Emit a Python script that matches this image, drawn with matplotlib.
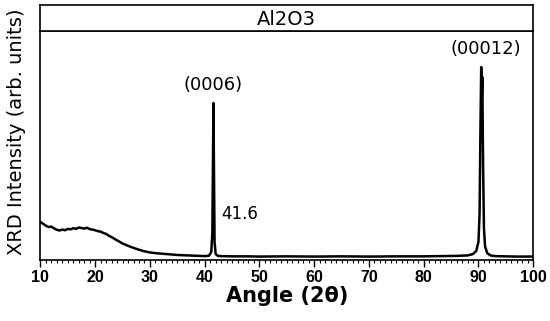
import numpy as np
import matplotlib.pyplot as plt
from matplotlib.ticker import MultipleLocator

plt.rcParams['font.family'] = ['DejaVu Sans']

# XRD 曲线数据 (角度 2θ, 强度 arb. units)
angle = [10, 10.5, 11, 11.5, 12, 12.5, 13, 13.5, 14, 14.5, 15, 15.5, 16, 16.5, 17, 17.5,
         18, 18.5, 19, 19.5, 20, 20.5, 21, 21.5, 22, 22.5, 23, 23.5, 24, 24.5, 25, 26,
         27, 28, 29, 30, 31, 32, 33, 34, 35, 36, 37, 38, 39, 40, 40.8, 41.2, 41.4,
         41.5, 41.6, 41.7, 41.8, 42.0, 42.4, 43, 45, 48, 50, 55, 60, 65, 70, 75, 80,
         83, 86, 88, 89, 89.6, 90.0, 90.2, 90.35, 90.5, 90.6, 90.7, 90.85, 91.0,
         91.2, 91.6, 92.2, 93, 95, 97, 100]
intensity = [16.6, 15.8, 15.0, 14.4, 14.6, 13.8, 13.2, 12.9, 13.3, 13.0, 13.6, 13.4,
             13.9, 13.6, 14.2, 14.0, 13.7, 14.1, 13.5, 13.3, 13.0, 12.6, 12.4, 11.8,
             11.4, 10.6, 10.0, 9.3, 8.6, 7.9, 7.2, 6.2, 5.3, 4.5, 3.8, 3.3, 3.0, 2.8,
             2.6, 2.4, 2.2, 2.1, 2.0, 1.9, 1.8, 1.7, 1.9, 3.5, 12.0,
             40.0, 68.6, 38.0, 8.0, 2.6, 1.8, 1.7, 1.6, 1.6, 1.5, 1.6, 1.5, 1.6, 1.5, 1.6, 1.6,
             1.7, 1.8, 2.0, 2.6, 4.0, 8.0, 20.0, 55.0, 84.3, 70.0, 80.0, 40.0, 14.0,
             6.0, 3.0, 2.0, 1.7, 1.6, 1.5, 1.5]

peak_labels = ['(0006)', '(00012)']
peak_pos = [41.6, 91.3]
peak_top = [68.6, 84.3]

fig = plt.figure(figsize=(5.5, 3.21), dpi=100)
ax = fig.add_axes([0.0735, 0.19, 0.896, 0.713])
ax_t = fig.add_axes([0.0735, 0.903, 0.896, 0.081])

ax.plot(angle, intensity, color='black', lw=1.8)
ax.set_xlim(10, 100)
ax.set_ylim(0, 100)
ax.xaxis.set_major_locator(MultipleLocator(10))
ax.xaxis.set_minor_locator(MultipleLocator(1))
ax.tick_params(axis='x', which='major', direction='out', length=5, width=1, pad=2)
ax.tick_params(axis='x', which='minor', direction='out', length=2.5, width=0.8)
for t in ax.get_xticklabels():
    t.set_family('Liberation Sans')
    t.set_fontweight('bold')
    t.set_fontsize(11.5)
ax.set_yticks([])
for s in ax.spines.values():
    s.set_linewidth(1.2)

ax.set_xlabel('Angle (2θ)', fontsize=15, fontweight='bold', labelpad=1)
ax.set_ylabel('XRD Intensity (arb. units)', fontsize=14)
ax.yaxis.set_label_coords(-0.03, 0.56)

for lab, x, y in zip(peak_labels, peak_pos, peak_top):
    ax.text(x, y + 4, lab, ha='center', va='bottom', fontsize=13)
ax.text(43.0, 20, '41.6', ha='left', va='center', fontsize=12)

ax_t.set_xticks([])
ax_t.set_yticks([])
for s in ax_t.spines.values():
    s.set_linewidth(1.2)
ax_t.text(0.5, 0.45, 'Al2O3', ha='center', va='center', fontsize=14, transform=ax_t.transAxes)

fig.savefig('out.png', dpi=100)
